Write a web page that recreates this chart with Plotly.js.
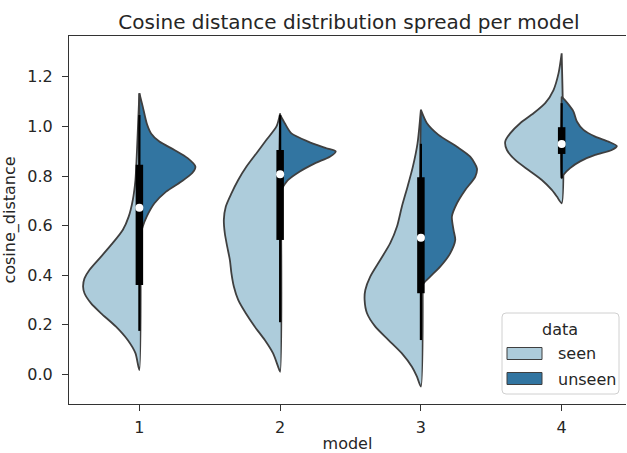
<!DOCTYPE html>
<html>
<head>
<meta charset="utf-8">
<script src="https://cdn.plot.ly/plotly-3.0.1.min.js"></script>
<style>html,body{margin:0;padding:0;background:#fff;}#chart{width:627px;height:453px;}</style>
</head>
<body>
<div id="chart"></div>
<script>
// ---- data ----
const models = [1, 2, 3, 4];
const tickLabels = ['1', '2', '3', '4'];
const hueLabels = ['seen', 'unseen'];

// half-violin outlines: y support and scaled density (half-width in category units)
const seen1_y = [0.017,0.085,0.138,0.192,0.246,0.286,0.327,0.354,0.387,0.421,0.475,0.529,0.582,0.636,0.703,0.784,0.878,1.013,1.134];
const seen1_d = [0,0.028,0.083,0.166,0.272,0.343,0.39,0.40,0.39,0.355,0.272,0.19,0.118,0.076,0.047,0.028,0.019,0.009,0];
const unseen1_y = [0.53,0.555,0.596,0.636,0.690,0.737,0.777,0.811,0.838,0.872,0.905,0.939,0.972,1.013,1.080,1.134];
const unseen1_d = [0,0.005,0.024,0.052,0.107,0.19,0.296,0.374,0.398,0.343,0.249,0.142,0.083,0.052,0.024,0];

const seen2_y = [0.010,0.030,0.084,0.138,0.192,0.246,0.300,0.354,0.407,0.461,0.515,0.569,0.623,0.677,0.730,0.784,0.838,0.892,0.946,1.000,1.053];
const seen2_d = [0,0.014,0.05,0.109,0.18,0.244,0.298,0.329,0.346,0.357,0.376,0.393,0.40,0.386,0.346,0.298,0.239,0.168,0.097,0.026,0];
const unseen2_y = [0.737,0.757,0.784,0.818,0.851,0.878,0.899,0.912,0.939,0.972,1.013,1.046];
const unseen2_d = [0,0.021,0.057,0.14,0.246,0.353,0.395,0.329,0.199,0.080,0.033,0];

const seen3_y = [-0.050,-0.010,0.030,0.084,0.138,0.192,0.246,0.300,0.340,0.394,0.461,0.529,0.596,0.677,0.757,0.838,0.932,1.067];
const seen3_d = [0,0.028,0.064,0.135,0.23,0.324,0.383,0.40,0.395,0.36,0.289,0.218,0.17,0.135,0.095,0.057,0.024,0];
const unseen3_y = [0.347,0.367,0.394,0.434,0.488,0.542,0.582,0.636,0.690,0.744,0.797,0.831,0.878,0.918,0.966,1.013,1.067];
const unseen3_d = [0,0.019,0.066,0.137,0.208,0.244,0.232,0.22,0.256,0.315,0.386,0.398,0.35,0.256,0.125,0.043,0];

const seen4_y = [0.690,0.717,0.744,0.784,0.824,0.865,0.905,0.939,0.972,1.013,1.053,1.094,1.147,1.215,1.295];
const seen4_d = [0,0.034,0.07,0.141,0.236,0.33,0.389,0.401,0.366,0.295,0.2,0.117,0.058,0.022,0];
const unseen4_y = [0.791,0.805,0.832,0.859,0.885,0.905,0.921,0.939,0.959,0.986,1.020,1.060,1.094,1.120];
const unseen4_d = [0,0.013,0.06,0.131,0.238,0.356,0.392,0.332,0.238,0.155,0.108,0.084,0.041,0];

// inner box statistics (both hues combined)
const whiskerLow  = [0.175, 0.210, 0.138, 0.791];
const quartile1   = [0.360, 0.542, 0.327, 0.889];
const medians     = [0.672, 0.807, 0.551, 0.929];
const quartile3   = [0.845, 0.905, 0.795, 0.997];
const whiskerHigh = [1.046, 1.046, 0.930, 1.094];

// ---- styling ----
const SEEN = '#adccdb', UNSEEN = '#3275a1', EDGE = '#3f3f3f', TXT = '#262626';
const FONT = 'DejaVu Sans, sans-serif';

const halves = [
  [seen1_y, seen1_d, unseen1_y, unseen1_d],
  [seen2_y, seen2_d, unseen2_y, unseen2_d],
  [seen3_y, seen3_d, unseen3_y, unseen3_d],
  [seen4_y, seen4_d, unseen4_y, unseen4_d]
];

function half(center, ys, ds, sign, color) {
  const x = ds.map(d => center + sign * d);
  const y = ys.slice();
  x.push(center, center); y.push(ys[ys.length - 1], ys[0]);
  return {type: 'scatter', mode: 'lines', x: x, y: y, fill: 'toself', fillcolor: color,
          line: {color: EDGE, width: 1.8, shape: 'spline', smoothing: 0.7}, hoverinfo: 'skip', showlegend: false};
}

const traces = [];
models.forEach((m, i) => {
  const h = halves[i];
  traces.push(half(m, h[0], h[1], -1, SEEN));
  traces.push(half(m, h[2], h[3], +1, UNSEEN));
});
// whiskers and boxes
const wx = [], wy = [], bx = [], by = [];
models.forEach((m, i) => {
  wx.push(m, m, null); wy.push(whiskerLow[i], whiskerHigh[i], null);
  bx.push(m, m, null); by.push(quartile1[i], quartile3[i], null);
});
traces.push({type: 'scatter', mode: 'lines', x: wx, y: wy, line: {color: '#000', width: 2.2}, hoverinfo: 'skip', showlegend: false});
traces.push({type: 'scatter', mode: 'lines', x: bx, y: by, line: {color: '#000', width: 7.5}, hoverinfo: 'skip', showlegend: false});
traces.push({type: 'scatter', mode: 'markers', x: models, y: medians, marker: {color: '#fff', size: 8, line: {width: 0}}, hoverinfo: 'skip', showlegend: false});

// ---- geometry helpers (pixels -> paper) ----
const W = 627, H = 453, L = 69, R = 626, T = 36, B = 404;
const px = X => (X - L) / (R - L);
const py = Y => 1 - (Y - T) / (B - T);

function roundRect(x0, y0, x1, y1, r) {
  const rx = r / (R - L), ry = r / (B - T);
  const a = px(x0), b = px(x1), top = py(y0), bot = py(y1);
  return `M ${a + rx} ${top} L ${b - rx} ${top} Q ${b} ${top} ${b} ${top - ry} L ${b} ${bot + ry} Q ${b} ${bot} ${b - rx} ${bot} L ${a + rx} ${bot} Q ${a} ${bot} ${a} ${bot + ry} L ${a} ${top - ry} Q ${a} ${top} ${a + rx} ${top} Z`;
}

const shapes = [
  {type: 'path', xref: 'paper', yref: 'paper', path: roundRect(502, 313, 619, 394, 4),
   fillcolor: 'rgba(255,255,255,0.8)', line: {color: '#d0d0d0', width: 1}, layer: 'above'},
  {type: 'rect', xref: 'paper', yref: 'paper', x0: px(507), x1: px(542), y0: py(359.5), y1: py(347.5),
   fillcolor: SEEN, line: {color: EDGE, width: 1}, layer: 'above'},
  {type: 'rect', xref: 'paper', yref: 'paper', x0: px(507), x1: px(542), y0: py(384.5), y1: py(372.5),
   fillcolor: UNSEEN, line: {color: EDGE, width: 1}, layer: 'above'}
];

const annotations = [
  {xref: 'paper', yref: 'paper', x: px(560), y: py(329), text: 'data', showarrow: false, xanchor: 'center', yanchor: 'middle', font: {family: FONT, size: 16, color: TXT}},
  {xref: 'paper', yref: 'paper', x: px(556), y: py(353), text: hueLabels[0], showarrow: false, xanchor: 'left', yanchor: 'middle', font: {family: FONT, size: 16, color: TXT}},
  {xref: 'paper', yref: 'paper', x: px(556), y: py(379), text: hueLabels[1], showarrow: false, xanchor: 'left', yanchor: 'middle', font: {family: FONT, size: 16, color: TXT}}
];

const layout = {
  width: W, height: H,
  margin: {l: L, r: W - R, t: T, b: H - B, pad: 0},
  paper_bgcolor: '#fff', plot_bgcolor: '#fff',
  font: {family: FONT, size: 16, color: TXT},
  title: {text: 'Cosine distance distribution spread per model', font: {family: FONT, size: 20, color: TXT},
          xref: 'paper', x: px(349), xanchor: 'center', yref: 'container', y: 1 - 22 / H, yanchor: 'middle'},
  xaxis: {range: [0.5, 4.457], tickmode: 'array', tickvals: models, ticktext: tickLabels,
          showgrid: false, zeroline: false, showline: true, mirror: true, linecolor: '#333', linewidth: 1,
          ticks: 'outside', ticklen: 6, tickcolor: '#333', tickwidth: 1, ticklabelstandoff: 3,
          tickfont: {family: FONT, size: 16, color: TXT},
          title: {text: 'model', font: {family: FONT, size: 16, color: TXT}, standoff: 7}},
  yaxis: {range: [-0.12, 1.365], tickmode: 'array', tickvals: [0, 0.2, 0.4, 0.6, 0.8, 1.0, 1.2],
          ticktext: ['0.0', '0.2', '0.4', '0.6', '0.8', '1.0', '1.2'],
          showgrid: false, zeroline: false, showline: true, linecolor: '#333', linewidth: 1,
          ticks: 'outside', ticklen: 6, tickcolor: '#333', tickwidth: 1, ticklabelstandoff: 6,
          tickfont: {family: FONT, size: 16, color: TXT},
          title: {text: 'cosine_distance', font: {family: FONT, size: 16, color: TXT}, standoff: 7}},
  shapes: shapes,
  annotations: annotations,
  showlegend: false
};

Plotly.newPlot('chart', traces, layout, {staticPlot: true, displayModeBar: false});
</script>
</body>
</html>
